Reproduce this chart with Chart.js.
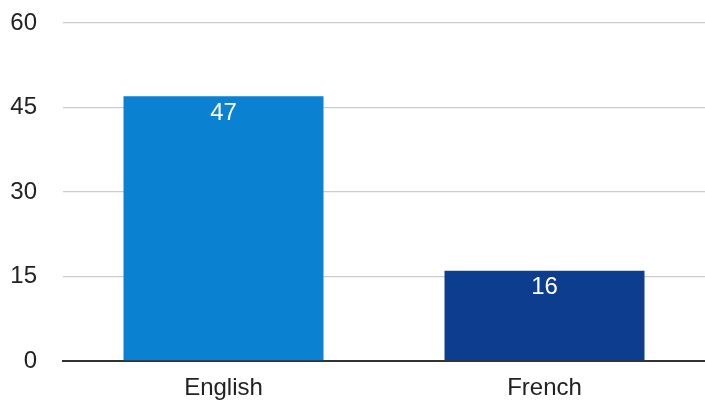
<!DOCTYPE html>
<html>
<head>
<meta charset="utf-8">
<script src="https://cdn.jsdelivr.net/npm/chart.js@4/dist/chart.umd.min.js"></script>
<style>
  html, body { margin: 0; padding: 0; background: #fff; }
  #wrap { width: 705px; height: 407px; }
</style>
</head>
<body>
<div id="wrap"><canvas id="myChart" width="705" height="407"></canvas></div>
<script>
'use strict';

var categories = ['English', 'French'];
var values = [47, 16];
var barColors = ['#0a81d1', '#0d3d8f'];
var yTicks = [0, 15, 30, 45, 60];

var fontFamily = '"Liberation Sans", Arial, sans-serif';

// white value labels just under the top of each bar
var valueLabels = {
  id: 'valueLabels',
  afterDatasetsDraw: function (chart) {
    var ctx = chart.ctx;
    var meta = chart.getDatasetMeta(0);
    ctx.save();
    ctx.fillStyle = '#ffffff';
    ctx.font = '24px ' + fontFamily;
    ctx.textAlign = 'center';
    ctx.textBaseline = 'middle';
    meta.data.forEach(function (bar, i) {
      ctx.fillText(String(values[i]), bar.x, bar.y + 17);
    });
    ctx.restore();
  }
};

var ctx = document.getElementById('myChart').getContext('2d');
new Chart(ctx, {
  type: 'bar',
  data: {
    labels: categories,
    datasets: [{
      data: values,
      backgroundColor: barColors,
      borderWidth: 0,
      categoryPercentage: 1,
      barPercentage: 0.623
    }]
  },
  options: {
    responsive: false,
    animation: false,
    layout: { padding: { top: 23, right: 0, left: 0, bottom: 0 } },
    plugins: { legend: { display: false }, tooltip: { enabled: false } },
    scales: {
      x: {
        grid: { display: false },
        border: { display: true, color: '#333333', width: 2 },
        ticks: {
          color: '#222222',
          padding: 5,
          font: { family: fontFamily, size: 24 }
        },
        afterFit: function (scale) { scale.height = 46; }
      },
      y: {
        min: 0,
        max: 60,
        afterBuildTicks: function (scale) {
          scale.ticks = yTicks.map(function (v) { return { value: v }; });
        },
        border: { display: false },
        grid: {
          color: '#cccccc',
          lineWidth: 1.3,
          drawTicks: false
        },
        ticks: {
          color: '#222222',
          padding: 26,
          font: { family: fontFamily, size: 24 }
        },
        afterFit: function (scale) {
          scale.width = 63;
          scale.paddingTop = 0;
          scale.paddingBottom = 0;
        }
      }
    }
  },
  plugins: [valueLabels]
});
</script>
</body>
</html>
